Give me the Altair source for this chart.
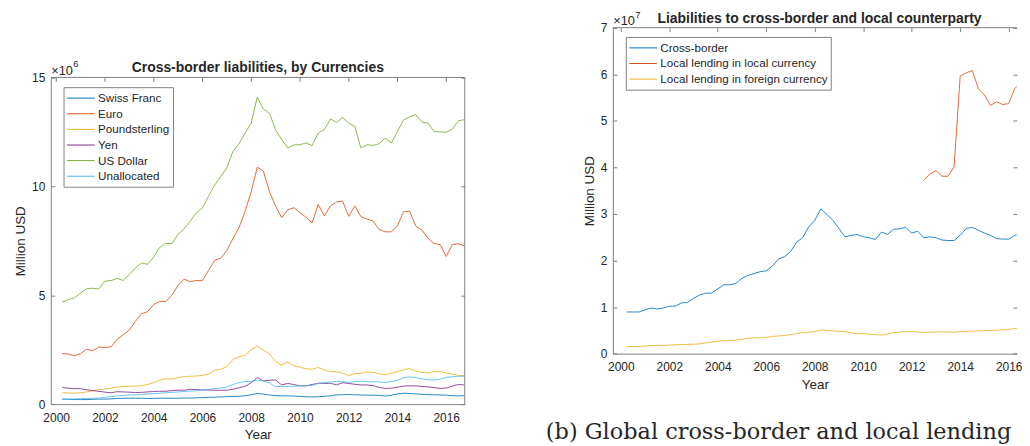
import altair as alt
import pandas as pd

# ---------------- data ----------------
quarters = [2000.25 + 0.25 * i for i in range(67)]

currencies = ["Swiss Franc", "Euro", "Poundsterling", "Yen", "US Dollar", "Unallocated"]
cur_colors = ["#0072BD", "#D95319", "#EDB120", "#7E2F8E", "#77AC30", "#4DBEEE"]

# values in units of 1e6 million USD
swiss = [0.23, 0.22, 0.21, 0.21, 0.21, 0.22, 0.23, 0.23, 0.24, 0.26,
         0.27, 0.27, 0.27, 0.27, 0.26, 0.26, 0.27, 0.27, 0.27, 0.27,
         0.28, 0.28, 0.29, 0.30, 0.31, 0.32, 0.33, 0.34, 0.35, 0.36,
         0.38, 0.43, 0.49, 0.46, 0.42, 0.39, 0.38, 0.38, 0.37, 0.35,
         0.34, 0.33, 0.34, 0.36, 0.38, 0.42, 0.43, 0.44, 0.43, 0.42,
         0.41, 0.41, 0.40, 0.37, 0.41, 0.47, 0.50, 0.49, 0.47, 0.45,
         0.43, 0.43, 0.42, 0.41, 0.39, 0.38, 0.39]
euro = [2.32, 2.30, 2.22, 2.32, 2.52, 2.45, 2.62, 2.60, 2.63, 2.98,
        3.18, 3.40, 3.80, 4.15, 4.24, 4.57, 4.72, 4.71, 5.00, 5.45,
        5.74, 5.62, 5.68, 5.67, 6.14, 6.60, 6.70, 7.05, 7.60, 8.10,
        8.85, 9.75, 10.88, 10.70, 9.75, 9.10, 8.56, 8.92, 9.02, 8.79,
        8.58, 8.32, 9.17, 8.64, 9.10, 9.28, 9.32, 8.62, 9.10, 8.61,
        8.50, 8.41, 8.02, 7.91, 7.91, 8.18, 8.84, 8.85, 8.18, 8.00,
        7.62, 7.37, 7.33, 6.78, 7.33, 7.36, 7.27]
pound = [0.53, 0.51, 0.50, 0.52, 0.56, 0.61, 0.66, 0.70, 0.73, 0.79,
         0.81, 0.82, 0.83, 0.85, 0.90, 0.99, 1.10, 1.17, 1.15, 1.21,
         1.27, 1.28, 1.29, 1.32, 1.38, 1.55, 1.60, 1.72, 2.05, 2.17,
         2.24, 2.50, 2.66, 2.48, 2.30, 1.95, 1.79, 1.94, 1.76, 1.70,
         1.62, 1.60, 1.68, 1.57, 1.50, 1.48, 1.43, 1.31, 1.40, 1.42,
         1.48, 1.46, 1.39, 1.35, 1.42, 1.49, 1.58, 1.63, 1.53, 1.46,
         1.43, 1.50, 1.50, 1.43, 1.38, 1.32, 1.29]
yen = [0.76, 0.73, 0.71, 0.71, 0.66, 0.62, 0.59, 0.55, 0.52, 0.57,
       0.56, 0.55, 0.53, 0.54, 0.56, 0.58, 0.59, 0.59, 0.62, 0.64,
       0.64, 0.68, 0.67, 0.65, 0.64, 0.64, 0.63, 0.64, 0.68, 0.75,
       0.82, 0.98, 1.22, 1.07, 1.10, 1.11, 0.88, 0.95, 0.90, 0.84,
       0.84, 0.90, 0.96, 0.95, 0.96, 0.88, 0.98, 0.95, 0.91, 0.88,
       0.88, 0.85, 0.77, 0.72, 0.73, 0.78, 0.83, 0.84, 0.84, 0.81,
       0.79, 0.76, 0.72, 0.74, 0.83, 0.90, 0.88]
usd = [4.69, 4.80, 4.88, 5.10, 5.30, 5.32, 5.29, 5.65, 5.67, 5.77,
       5.68, 5.95, 6.25, 6.48, 6.42, 6.75, 7.20, 7.38, 7.37, 7.80,
       8.05, 8.40, 8.79, 9.00, 9.55, 10.05, 10.45, 10.85, 11.60, 11.95,
       12.45, 12.90, 14.10, 13.55, 13.35, 12.60, 12.15, 11.76, 11.90, 11.91,
       11.99, 11.87, 12.45, 12.60, 13.10, 12.93, 13.16, 12.90, 12.75, 11.76,
       11.91, 11.88, 11.96, 12.22, 11.99, 12.52, 13.05, 13.18, 13.29, 12.95,
       12.90, 12.52, 12.50, 12.48, 12.63, 13.01, 13.06]
unalloc = [0.23, 0.23, 0.24, 0.25, 0.26, 0.27, 0.28, 0.31, 0.35, 0.38,
           0.40, 0.42, 0.43, 0.45, 0.46, 0.48, 0.50, 0.52, 0.54, 0.56,
           0.58, 0.60, 0.61, 0.64, 0.67, 0.71, 0.74, 0.78, 0.90, 0.99,
           1.03, 1.05, 1.10, 1.07, 0.97, 0.80, 0.81, 0.81, 0.82, 0.84,
           0.84, 0.86, 0.95, 0.99, 1.02, 1.04, 1.04, 1.00, 1.03, 1.05,
           1.03, 1.02, 1.02, 0.99, 1.04, 1.10, 1.21, 1.25, 1.22, 1.16,
           1.12, 1.10, 1.15, 1.23, 1.25, 1.28, 1.29]

types = ["Cross-border", "Local lending in local currency", "Local lending in foreign currency"]
type_colors = ["#0072BD", "#D95319", "#EDB120"]

# values in units of 1e7 million USD
cross_border = [0.895, 0.895, 0.895, 0.94, 0.98, 0.96, 0.98, 1.02, 1.02, 1.09,
                1.10, 1.19, 1.26, 1.30, 1.30, 1.39, 1.48, 1.48, 1.51, 1.62,
                1.68, 1.72, 1.76, 1.78, 1.88, 2.03, 2.08, 2.19, 2.39, 2.49,
                2.72, 2.86, 3.11, 2.99, 2.86, 2.69, 2.51, 2.54, 2.56, 2.51,
                2.49, 2.45, 2.61, 2.56, 2.67, 2.68, 2.71, 2.59, 2.63, 2.49,
                2.51, 2.49, 2.44, 2.43, 2.43, 2.54, 2.69, 2.71, 2.65, 2.59,
                2.54, 2.47, 2.46, 2.46, 2.54, 2.57, 2.58]
local_years = quarters[49:]
local_local = [3.72, 3.86, 3.93, 3.81, 3.81, 4.01, 5.96, 6.03, 6.08, 5.69,
               5.56, 5.33, 5.41, 5.35, 5.37, 5.69, 5.83, 5.91]
local_foreign = [0.150, 0.152, 0.156, 0.165, 0.175, 0.177, 0.178, 0.185, 0.190, 0.195,
                 0.200, 0.203, 0.210, 0.230, 0.250, 0.265, 0.280, 0.285, 0.290, 0.310,
                 0.330, 0.340, 0.340, 0.350, 0.370, 0.380, 0.390, 0.410, 0.430, 0.450,
                 0.460, 0.475, 0.510, 0.500, 0.490, 0.480, 0.470, 0.450, 0.430, 0.430,
                 0.420, 0.410, 0.400, 0.420, 0.450, 0.460, 0.475, 0.475, 0.465, 0.455,
                 0.460, 0.465, 0.470, 0.465, 0.460, 0.470, 0.480, 0.485, 0.490, 0.495,
                 0.500, 0.505, 0.515, 0.520, 0.540, 0.555, 0.565]

year_ticks = [2000, 2002, 2004, 2006, 2008, 2010, 2012, 2014, 2016]

# ---------------- tables ----------------
left_rows = []
for name, series in zip(currencies, [swiss, euro, pound, yen, usd, unalloc]):
    assert len(series) == len(quarters)
    for yr, v in zip(quarters, series):
        left_rows.append({"Year": yr, "Value": v * 1e6, "Currency": name})
left_df = pd.DataFrame(left_rows)

right_rows = []
for name, xs, series in [(types[0], quarters, cross_border),
                         (types[1], local_years, local_local),
                         (types[2], quarters, local_foreign)]:
    assert len(xs) == len(series)
    for yr, v in zip(xs, series):
        right_rows.append({"Year": yr, "Value": v * 1e7, "Type": name})
right_df = pd.DataFrame(right_rows)

one = pd.DataFrame({"k": [0]})

# ---------------- styling ----------------
SANS = "Liberation Sans"
SERIF = "DejaVu Serif"
TXT = "#262626"
FRAME = "#808080"
GAP = 3000


def text_mark(txt, x, y, size, weight="normal", align="left", font=SANS, **kw):
    return alt.Chart(one).mark_text(
        text=txt, fontSize=size, fontWeight=weight, align=align,
        baseline="alphabetic", font=font, color=TXT, **kw
    ).encode(x=alt.value(x), y=alt.value(y))


def panel(df, field, domain_names, colors, W, H, top, xdom, ymax, yticks, yscale_div,
          title, exp_txt, legend_xy, title_x=None, right_border=True):
    span = H - top
    xs = alt.Scale(domain=xdom, nice=False, zero=False)
    ys = alt.Scale(domain=[0, ymax], range=[H, top], nice=False, zero=False)
    # vertical grid lines are used as short inward ticks at the bottom and top of the box
    xaxis = alt.Axis(values=year_ticks, format="d", title="Year",
                     grid=True, gridColor=FRAME, gridWidth=1,
                     gridDash=[4, span - 8, 4, GAP], gridDashOffset=span + GAP - top,
                     ticks=False, tickSize=0, domainColor=FRAME, domainWidth=1,
                     labelFont=SANS, labelFontSize=12, labelColor=TXT, labelPadding=8,
                     titleFont=SANS, titleFontSize=13.5, titleFontWeight="normal",
                     titleColor=TXT, titlePadding=5)
    yaxis = alt.Axis(values=yticks, labelExpr=f"format(datum.value / {yscale_div}, 'd')",
                     title="Million USD",
                     grid=True, gridColor=FRAME, gridWidth=1, gridDash=[4, W - 8, 4, GAP],
                     ticks=False, tickSize=0, domainColor=FRAME, domainWidth=1,
                     labelFont=SANS, labelFontSize=12, labelColor=TXT, labelPadding=6,
                     titleFont=SANS, titleFontSize=13.5, titleFontWeight="normal",
                     titleColor=TXT, titlePadding=4)
    legend = alt.Legend(title=None, orient="none", legendX=legend_xy[0], legendY=legend_xy[1],
                        symbolType="M-1,0H2.7", symbolSize=225, symbolStrokeWidth=1,
                        labelFont=SANS, labelFontSize=11.7, labelColor=TXT, labelOffset=15.7,
                        labelLimit=400,
                        rowPadding=0.7, padding=3, strokeColor=FRAME, fillColor="white",
                        cornerRadius=0)
    lines = alt.Chart(df).mark_line(strokeWidth=1, clip=True, strokeOpacity=0.85).encode(
        x=alt.X("Year:Q", scale=xs, axis=xaxis),
        y=alt.Y("Value:Q", scale=ys, axis=yaxis),
        color=alt.Color(f"{field}:N", scale=alt.Scale(domain=domain_names, range=colors),
                        legend=legend, sort=domain_names),
        detail=f"{field}:N",
    )
    top_rule = alt.Chart(one).mark_rule(color=FRAME, strokeWidth=1).encode(
        x=alt.datum(xdom[0]), x2=alt.datum(xdom[1]), y=alt.datum(ymax))
    layers = [lines, top_rule]
    if right_border:
        layers.append(alt.Chart(one).mark_rule(color=FRAME, strokeWidth=1).encode(
            x=alt.datum(xdom[1]), y=alt.datum(0), y2=alt.datum(ymax)))
    tx = W / 2 if title_x is None else title_x
    layers.append(text_mark(title, tx, top - 5, 14, weight="bold", align="center"))
    layers.append(text_mark("\u00d710", 0.5, top - 2.5, 12.8))
    layers.append(text_mark(exp_txt, 22.5, top - 10, 9.5))
    return layers


LW, LH, LTOP = 416, 397, 68.7
RW, RH, RTOP = 406, 346.3, 18.7

left_layers = panel(left_df, "Currency", currencies, cur_colors, LW, LH, LTOP,
                    [1999.78, 2016.76], 15e6, [0, 5e6, 10e6, 15e6], "1e6",
                    "Cross-border liabilities, by Currencies", "6", (12.8, 78.5))
left = alt.layer(*left_layers).properties(width=LW, height=LH)

right_layers = panel(right_df, "Type", types, type_colors, RW, RH, RTOP,
                     [1999.67, 1999.67 + RW / 24.36], 7e7,
                     [0, 1e7, 2e7, 3e7, 4e7, 5e7, 6e7, 7e7], "1e7",
                     "Liabilities to cross-border and local counterparty", "7", (13, 28),
                     title_x=207.7, right_border=False)
right_layers.append(text_mark("(b) Global cross-border and local lending", -67.3, 432, 22.5,
                              font=SERIF))
right = alt.layer(*right_layers).properties(width=RW, height=RH)

chart = alt.hconcat(left, right, spacing=148.8, bounds="flush").resolve_scale(
    x="independent", y="independent", color="independent"
).properties(
    padding={"left": 5, "top": 0, "right": 0, "bottom": 0}
).configure(font=SANS, background="white").configure_view(stroke="transparent", strokeWidth=0)

chart.save("out.html", embed_options={"renderer": "svg", "actions": False})
